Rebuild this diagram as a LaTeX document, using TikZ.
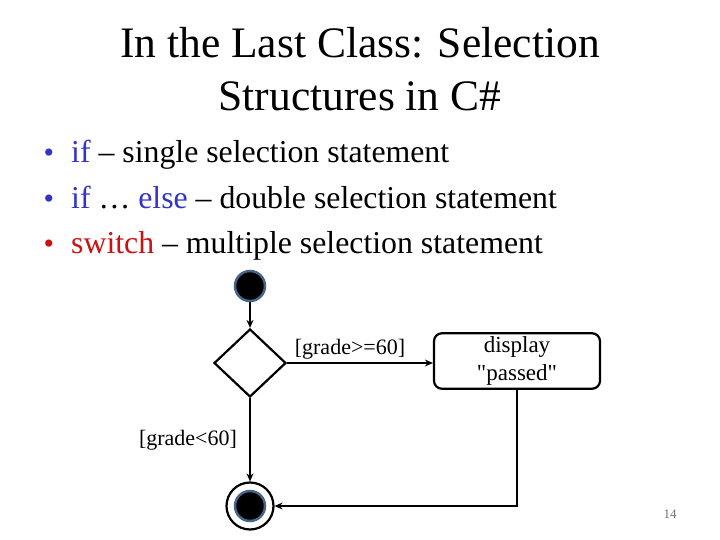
\documentclass[tikz,border=0pt]{standalone}
\usepackage{fontspec}
\setmainfont{Liberation Serif}
\usetikzlibrary{shapes.geometric, arrows.meta, positioning, calc}
\definecolor{kwblue}{RGB}{51,51,204}
\definecolor{kwred}{RGB}{204,17,17}
\definecolor{ring}{RGB}{70,100,135}

\begin{document}
\begin{tikzpicture}[x=1pt, y=-1pt,
          bigfont/.style={font=\fontsize{43.5}{53}\selectfont},
          txt/.style={font=\fontsize{31.8}{36}\selectfont, anchor=base west, inner sep=0pt},
          dot/.style={font=\fontsize{30}{33}\selectfont, anchor=base, inner sep=0pt},
          guard/.style={font=\fontsize{22}{26}\selectfont, inner sep=0pt},
          initial/.style={circle, fill=black, draw=ring, line width=2.5pt,
                          minimum size=30pt, inner sep=0pt},
          decision/.style={diamond, draw=black, line width=2.2pt, fill=white,
                           minimum width=72pt, minimum height=68pt, inner sep=0pt},
          action/.style={rectangle, rounded corners=8pt, draw=black, line width=2.2pt,
                         minimum width=166pt, minimum height=55pt,
                         font=\fontsize{23}{28}\selectfont, align=center},
          final/.style={circle, draw=black, line width=2.2pt, fill=white,
                        minimum size=47pt, inner sep=0pt},
          arr/.style={-{Stealth[length=8pt, width=7pt]}, line width=1.3pt}
        ]
        \useasboundingbox (0,0) rectangle (720,540);
        \node[bigfont, align=center] (title) at (360,69) {In the Last Class: Selection\\Structures in C\#};
        % bullet list
        \node[txt] (b1) at (71,163) {\textcolor{kwblue}{if} -- single selection statement};
        \node[txt] (b2) at (71,208) {\textcolor{kwblue}{if} \dots\ \textcolor{kwblue}{else} -- double selection statement};
        \node[txt] (b3) at (71,253) {\textcolor{kwred}{switch} -- multiple selection statement};
        \node[dot, text=kwblue] (d1) at (49,163) {•};
        \node[dot, text=kwblue] (d2) at (49,208) {•};
        \node[dot, text=kwred]  (d3) at (49,253) {•};
        % activity diagram
        \node[initial] (start) at (250,286) {};
        \node[decision] (dec) at (250,363) {};
        \node[action] (show) at (517,361) {display\\\textquotedbl passed\textquotedbl};
        \node[final] (stop) at (250,506) {};
        \node[circle, fill=black, draw=ring, line width=2.5pt, minimum size=30pt, inner sep=0pt] (stopin) at (stop) {};
        \draw[arr] (start) -- (dec);
        \draw[arr] (dec.east) -- (dec.east -| show.west);
        \draw[arr] (dec.south) -- (stop.north);
        \draw[arr] (show.south) |- (stop.east);
        \node[guard] (pass) at (350,349) {[grade>=60]};
        \node[guard] (fail) at (188,440) {[grade<60]};
        \node[font=\fontsize{13}{15}\selectfont, text=black!55] (pg) at (670,514) {14};
      \end{tikzpicture}
\end{document}
